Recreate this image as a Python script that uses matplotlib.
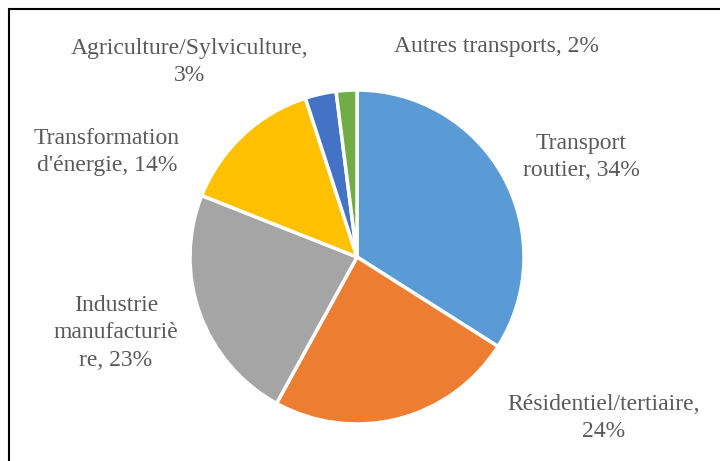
import matplotlib
matplotlib.use("Agg")
import matplotlib.pyplot as plt
from matplotlib.patches import Rectangle

# Data
labels = ["Transport\nroutier, 34%", "Résidentiel/tertiaire,\n24%", "Industrie\nmanufacturiè\nre, 23%",
          "Transformation\nd'énergie, 14%", "Agriculture/Sylviculture,\n3%", "Autres transports, 2%"]
values = [34, 24, 23, 14, 3, 2]
colors = ["#5B9BD5", "#ED7D31", "#A5A5A5", "#FFC000", "#4472C4", "#70AD47"]

# label centres in pixels (x, y from top)
label_px = [(581, 157), (604, 418), (116, 333), (107, 152), (190, 62), (496, 46)]

W, H = 720, 461
cx, cy, r = 357, 257, 167

fig = plt.figure(figsize=(W / 100, H / 100), dpi=100)
ax = fig.add_axes([0, 0, 1, 1])

ax.pie(values, colors=colors, startangle=90, counterclock=False, radius=1,
       wedgeprops=dict(edgecolor="white", linewidth=2.5))

ax.set_xlim(-cx / r, (W - cx) / r)
ax.set_ylim(-(H - cy) / r, cy / r)
ax.set_aspect("equal")
ax.axis("off")

for lab, (px, py) in zip(labels, label_px):
    ax.text((px - cx) / r, (cy - py) / r, lab, ha="center", va="center",
            fontsize=17, family="Liberation Serif", color="#595959",
            linespacing=1.42)

# chart frame (only top and left edges visible)
fig.patches.append(Rectangle((9 / W, -0.1), 1.2, (H - 9) / H + 0.1,
                             transform=fig.transFigure, fill=False,
                             edgecolor="black", linewidth=1.5))

fig.savefig("out.png", dpi=100)
